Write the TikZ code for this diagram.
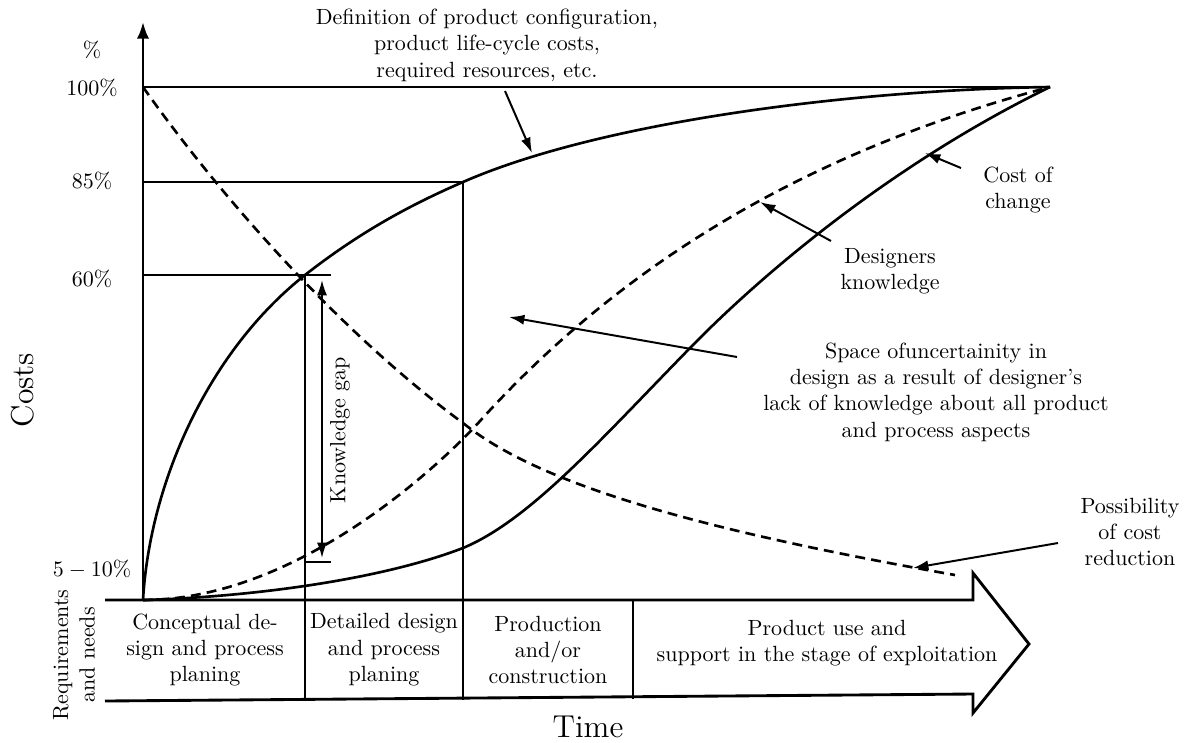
\documentclass[tikz,border=0pt]{standalone}
\usetikzlibrary{arrows.meta}
\begin{document}
\begin{tikzpicture}
  [x=0.4545pt,y=-0.4545pt,
   curve/.style={line width=1.2pt},
   dashcurve/.style={line width=1.2pt,dash pattern=on 4.5pt off 2.8pt},
   level/.style={line width=0.9pt},
   pointer/.style={-{Latex[length=7pt,width=4.6pt]},line width=0.9pt},
   label/.style={align=center,inner sep=1pt}]
  \useasboundingbox (0,0) rectangle (1186,742);

  % axis and levels
  \draw
    [-{Latex[length=7.5pt,width=5.5pt]},line width=1.2pt]
    (143,600) coordinate (origin)
    -- (143,22) coordinate (top)
  ;
  \coordinate (end) at (1050,87);
  \coordinate (c60) at (305,275);
  \coordinate (c85) at (463,182);
  \draw [level] (143,87) -- (end);
  \draw [level] (143,182) -- (c85);
  \draw [level] (143,275) -- (331,275);
  \draw [level] (c60) -- (305,701);
  \draw [level] (c85) -- (463,700);
  \draw [level] (633,600) -- (633,699);
  \draw [level] (306,562) -- (331,562);

  \node (pct) at (92,50) {\%};
  \node (p100) at (92,88) {100\%};
  \node (p85) at (92,181) {85\%};
  \node (p60) at (92,279) {60\%};
  \node (p5) at (92,569) {$5-10\%$};
  \node (costs) [rotate=90,font=\Large] at (23,390) {Costs};
  \node (time) [font=\Large] at (588,727) {Time};
  \node (needs) [rotate=90,label] at (74,655) {Requirements\\and needs};

  % time band
  \draw
    [line width=1.3pt,line join=miter]
    (105,600) -- (973,600) -- (973,573)
    -- (1029,644) coordinate (tip)
    -- (973,713) -- (973,694) -- (105,701)
  ;
  \node (concept) [label] at (205,650) {Conceptual de-\\sign and process\\planing};
  \node (detail) [label] at (384,650) {Detailed design\\and process\\planing};
  \node (prod) [label] at (548,650) {Production\\and/or\\construction};
  \node (use) [label] at (827,643) {Product use and\\support in the stage of exploitation};

  % curves
  \draw [curve]
    (origin) .. controls (150,480) and (210,350) .. (c60)
    .. controls (360,232) and (410,205) .. (c85)
    .. controls (600,122) and (850,90) .. (end)
  ;
  \draw [curve]
    (origin) .. controls (250,597) and (380,580) .. (463,548)
    .. controls (530,520) and (600,440) .. (690,348)
    .. controls (770,266) and (900,160) .. (end)
  ;
  \draw [dashcurve]
    (origin) .. controls (300,600) and (445,460) .. (480,421)
    .. controls (630,255) and (820,148) .. (end)
  ;
  \draw [dashcurve]
    (143,87) .. controls (230,210) and (350,340) .. (463,423)
    .. controls (540,485) and (700,530) .. (955,575)
  ;

  % knowledge gap
  \coordinate (gap top) at (322,280);
  \coordinate (gap bottom) at (322,558);
  \draw
    [{Latex[length=7pt,width=4.6pt]}-{Latex[length=7pt,width=4.6pt]},line width=0.9pt]
    (gap top) -- (gap bottom)
  ;
  \node (gap) [rotate=90] at (340,430) {Knowledge gap};

  % labels with pointers
  \node (definition) [label] at (487,45)
    {Definition of product configuration,\\product life-cycle costs,\\required resources, etc.};
  \coordinate (definition tail) at (505,91);
  \coordinate (definition head) at (532,153);
  \draw [pointer] (definition tail) -- (definition head);

  \node (change) [label] at (1018,190) {Cost of\\change};
  \coordinate (change tail) at (961,168);
  \coordinate (change head) at (925,153);
  \draw [pointer] (change tail) -- (change head);

  \node (knowledge) [label] at (890,271) {Designers\\knowledge};
  \coordinate (knowledge tail) at (831,241);
  \coordinate (knowledge head) at (760,202);
  \draw [pointer] (knowledge tail) -- (knowledge head);

  \node (space) [label] at (936,392)
    {Space ofuncertainity in\\design as a result of designer's\\lack of knowledge about all product\\and process aspects};
  \coordinate (space tail) at (737,357);
  \coordinate (space head) at (509,317);
  \draw [pointer] (space tail) -- (space head);

  \node (reduction) [label] at (1130,532) {Possibility\\of cost\\reduction};
  \coordinate (reduction tail) at (1058,543);
  \coordinate (reduction head) at (913,568);
  \draw [pointer] (reduction tail) -- (reduction head);
\end{tikzpicture}
\end{document}
